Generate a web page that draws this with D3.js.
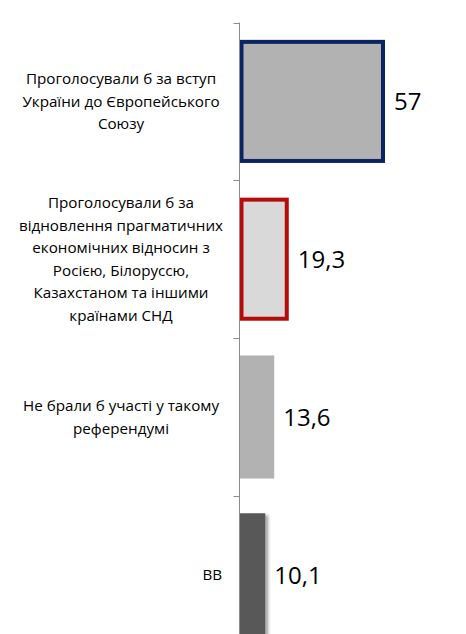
<!DOCTYPE html>
<html>
<head>
<meta charset="utf-8">
<script src="https://cdn.jsdelivr.net/npm/d3@7"></script>
<style>
  body { margin: 0; background: #fff; }
  svg { display: block; }
</style>
</head>
<body>
<div id="chart"></div>
<script>
// дані
const categories = ["eu", "cis", "none", "vv"];
const labels = [
  ["Проголосували б за вступ", "України до Європейського", "Союзу"],
  ["Проголосували б за", "відновлення прагматичних", "економічних відносин з", "Росією, Білоруссю,", "Казахстаном та іншими", "країнами СНД"],
  ["Не брали б участі у такому", "референдумі"],
  ["ВВ"]
];
const values = [57, 19.3, 13.6, 10.1];
const valueLabels = ["57", "19,3", "13,6", "10,1"];

const width = 466, height = 634;
const axisX = 239.5;

const fills = ["#b2b2b2", "#d9d9d9", "#b2b2b2", "#595959"];
const strokes = ["#0c2462", "#b60b0b", "none", "none"];

const svg = d3.select("#chart").append("svg")
  .attr("width", width)
  .attr("height", height);

const defs = svg.append("defs");
const f = defs.append("filter").attr("id", "shadow")
  .attr("x", "-20%").attr("y", "-20%").attr("width", "160%").attr("height", "160%");
f.append("feDropShadow").attr("dx", 3).attr("dy", 2).attr("stdDeviation", 1.5)
  .attr("flood-color", "#000").attr("flood-opacity", 0.35);

const y = d3.scaleBand()
  .domain(categories)
  .range([22.5, 22.5 + 4 * 157.8])
  .paddingInner(0.22)
  .paddingOuter(0.11);

const yTicks = d3.scaleBand()
  .domain(categories)
  .range([22.5, 22.5 + 4 * 157.8]);

const x = d3.scaleLinear()
  .domain([0, 57])
  .range([axisX, 385]);

// смуги
const data = categories.map((c, i) => ({ c, v: values[i], i }));

svg.selectAll("rect.bar")
  .data(data)
  .enter()
  .append("rect")
  .attr("class", "bar")
  .attr("x", d => x(0) + (strokes[d.i] !== "none" ? 2 : 0))
  .attr("y", d => y(d.c) + (strokes[d.i] !== "none" ? 2 : 0))
  .attr("width", d => x(d.v) - x(0) - (strokes[d.i] !== "none" ? 4 : 0))
  .attr("height", d => y.bandwidth() - (strokes[d.i] !== "none" ? 4 : 0))
  .attr("fill", d => fills[d.i])
  .attr("stroke", d => strokes[d.i])
  .attr("stroke-width", 4)
  .attr("filter", d => d.i === 3 ? "url(#shadow)" : null);

// вісь
svg.append("line")
  .attr("x1", axisX).attr("x2", axisX)
  .attr("y1", yTicks.range()[0]).attr("y2", height)
  .attr("stroke", "#8c8c8c").attr("stroke-width", 1);

svg.selectAll("line.tick")
  .data(categories)
  .enter()
  .append("line")
  .attr("class", "tick")
  .attr("x1", axisX - 6).attr("x2", axisX)
  .attr("y1", d => Math.round(yTicks(d)) + 0.5)
  .attr("y2", d => Math.round(yTicks(d)) + 0.5)
  .attr("stroke", "#8c8c8c");

// підписи категорій
const lh = 22.5;
data.forEach(d => {
  const lines = labels[d.i];
  const cy = y(d.c) + y.bandwidth() / 2;
  const single = lines.length === 1;
  const t = svg.append("text")
    .attr("text-anchor", single ? "end" : "middle")
    .attr("font-family", "'Open Sans', sans-serif")
    .attr("font-size", 15.2)
    .attr("fill", "#000");
  lines.forEach((ln, k) => {
    t.append("tspan")
      .attr("x", single ? 222 : 121)
      .attr("y", cy + (k - (lines.length - 1) / 2) * lh + 5.5)
      .text(ln);
  });
});

// значення
svg.selectAll("text.val")
  .data(data)
  .enter()
  .append("text")
  .attr("class", "val")
  .attr("x", d => x(d.v) + 9)
  .attr("y", d => y(d.c) + y.bandwidth() / 2 + 9)
  .attr("font-family", "'Open Sans', sans-serif")
  .attr("font-size", 24)
  .attr("fill", "#000")
  .text(d => valueLabels[d.i]);
</script>
</body>
</html>
